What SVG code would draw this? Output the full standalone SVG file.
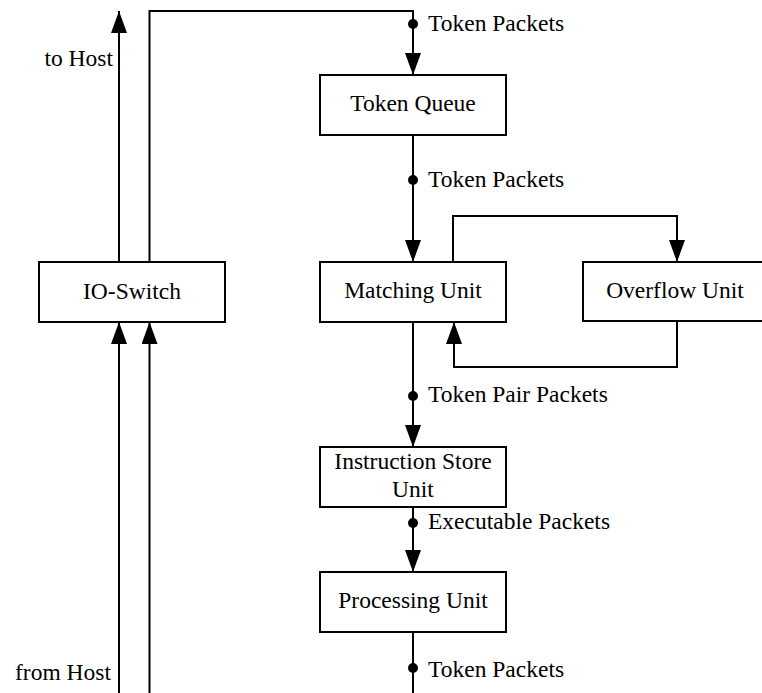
<svg xmlns="http://www.w3.org/2000/svg" width="762" height="693" viewBox="0 0 762 693">
  <style>
    .box { fill: #ffffff; stroke: #000000; stroke-width: 2; }
    .wire { fill: none; stroke: #000000; stroke-width: 2; }
    .mid { text-anchor: middle; }
    .end { text-anchor: end; }
    .dot { fill: #000000; }
  </style>
  <defs>
    <marker id="arrow" markerUnits="userSpaceOnUse" markerWidth="22" markerHeight="16" refX="22" refY="8" orient="auto">
      <path d="M0,0 L22,8 L0,16 Z" fill="#000000"/>
    </marker>
  </defs>
  <rect width="762" height="693" fill="#ffffff"/>

  <g font-family="Liberation Serif, Times New Roman, serif" font-size="23.5" fill="#000000">
  <!-- connectors -->
  <g id="connectors">
    <!-- IO-Switch to host -->
    <path class="wire" d="M119,262 V11" marker-end="url(#arrow)"/>
    <!-- IO-Switch feeding the token queue -->
    <path class="wire" d="M149.5,262 V11 H413 V75" marker-end="url(#arrow)"/>
    <!-- host inputs into IO-Switch -->
    <path class="wire" d="M119,693 V322" marker-end="url(#arrow)"/>
    <path class="wire" d="M149.5,693 V322" marker-end="url(#arrow)"/>
    <!-- main pipeline -->
    <path class="wire" d="M413,135 V262" marker-end="url(#arrow)"/>
    <path class="wire" d="M413,322 V447" marker-end="url(#arrow)"/>
    <path class="wire" d="M413,507 V572" marker-end="url(#arrow)"/>
    <path class="wire" d="M413,632 V693"/>
    <!-- overflow loop -->
    <path class="wire" d="M453,262 V216 H677 V262" marker-end="url(#arrow)"/>
    <path class="wire" d="M677,322 V367 H454 V322" marker-end="url(#arrow)"/>
    <!-- packet markers -->
    <circle class="dot" cx="413" cy="24" r="5"/>
    <circle class="dot" cx="413" cy="180" r="5"/>
    <circle class="dot" cx="413" cy="396" r="5"/>
    <circle class="dot" cx="413" cy="523" r="5"/>
    <circle class="dot" cx="413" cy="668" r="5"/>
    <!-- connector labels -->
    <text x="428" y="31">Token Packets</text>
    <text x="428" y="187">Token Packets</text>
    <text x="428" y="402">Token Pair Packets</text>
    <text x="428" y="529">Executable Packets</text>
    <text x="428" y="677">Token Packets</text>
    <text class="end" x="113" y="66">to Host</text>
    <text class="end" x="111" y="680">from Host</text>
  </g>

  <g id="token-queue">
    <rect class="box" x="320" y="75" width="186" height="60"/>
    <text class="mid" x="413" y="111">Token Queue</text>
  </g>
  <g id="io-switch">
    <rect class="box" x="39" y="262" width="186" height="60"/>
    <text class="mid" x="132" y="299">IO-Switch</text>
  </g>
  <g id="matching-unit">
    <rect class="box" x="320" y="262" width="186" height="60"/>
    <text class="mid" x="413" y="298">Matching Unit</text>
  </g>
  <g id="overflow-unit">
    <rect class="box" x="583" y="262" width="186" height="59"/>
    <text class="mid" x="675" y="298">Overflow Unit</text>
  </g>
  <g id="instruction-store-unit">
    <rect class="box" x="320" y="447" width="186" height="60"/>
    <text class="mid" x="413" y="469">Instruction Store</text>
    <text class="mid" x="413" y="497">Unit</text>
  </g>
  <g id="processing-unit">
    <rect class="box" x="320" y="572" width="186" height="60"/>
    <text class="mid" x="413" y="608">Processing Unit</text>
  </g>
  </g>
</svg>
